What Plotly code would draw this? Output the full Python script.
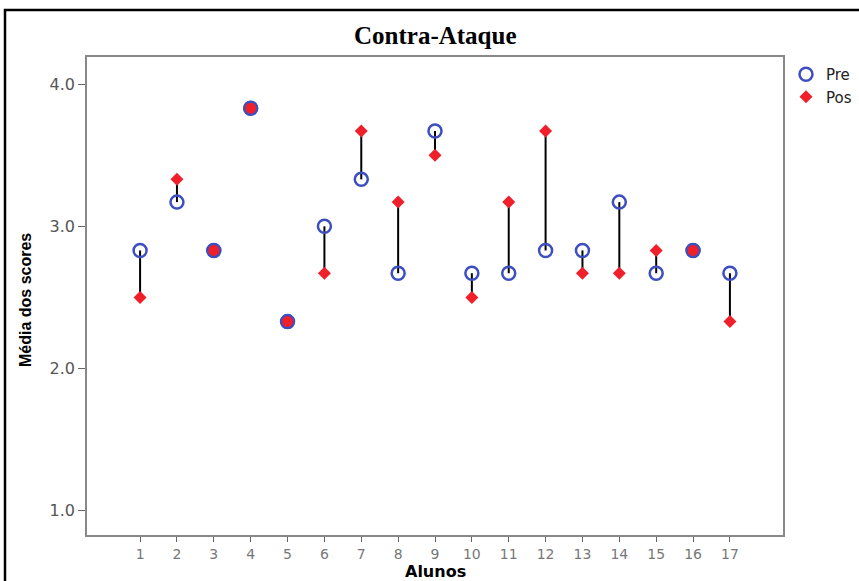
import plotly.graph_objects as go

alunos = list(range(1, 18))
pre = [2.83, 3.17, 2.83, 3.83, 2.33, 3.0, 3.33, 2.67, 3.67, 2.67, 2.67, 2.83, 2.83, 3.17, 2.67, 2.83, 2.67]
pos = [2.5, 3.33, 2.83, 3.83, 2.33, 2.67, 3.67, 3.17, 3.5, 2.5, 3.17, 3.67, 2.67, 2.67, 2.83, 2.83, 2.33]
y_ticks = [1.0, 2.0, 3.0, 4.0]

BLUE = "#3d4fc0"
RED = "#f0202a"

# connecting lines
lx, ly = [], []
for a, p, q in zip(alunos, pre, pos):
    lx += [a, a, None]
    ly += [p, q, None]

fig = go.Figure()
fig.add_trace(go.Scatter(x=lx, y=ly, mode="lines", line=dict(color="black", width=2),
                         showlegend=False, hoverinfo="skip"))
fig.add_trace(go.Scatter(x=alunos, y=pre, mode="markers", name="Pre",
                         marker=dict(symbol="circle-open", size=13, color=BLUE, line=dict(width=2.5, color=BLUE))))
fig.add_trace(go.Scatter(x=alunos, y=pos, mode="markers", name="Pos",
                         marker=dict(symbol="diamond", size=10, color=RED, line=dict(width=0))))
# equal values: filled
eq_x = [a for a, p, q in zip(alunos, pre, pos) if p == q]
eq_y = [p for p, q in zip(pre, pos) if p == q]
fig.add_trace(go.Scatter(x=eq_x, y=eq_y, mode="markers", showlegend=False, hoverinfo="skip",
                         marker=dict(symbol="circle", size=13, color=RED, line=dict(width=2, color=BLUE))))

W, H = 859, 581
L, R, T, B = 87, 76, 57, 46
pw, ph = W - L - R, H - T - B

fig.update_layout(
    width=W, height=H,
    margin=dict(l=L, r=R, t=T, b=B, autoexpand=False),
    paper_bgcolor="white", plot_bgcolor="white",
    font=dict(family="DejaVu Sans, Arial, sans-serif"),
    legend=dict(x=(786 - L) / pw, y=1 - (58 - T) / ph, xanchor="left", yanchor="top",
                font=dict(size=15, color="#222"), bgcolor="rgba(0,0,0,0)", itemwidth=30,
                tracegroupgap=0),
    xaxis=dict(range=[-0.44, 18.44], tickvals=alunos, ticktext=[str(a) for a in alunos],
               showgrid=False, zeroline=False, showline=True, linecolor="#888", linewidth=1.5,
               ticks="outside", ticklen=5, tickcolor="#666",
               tickfont=dict(family="DejaVu Sans, sans-serif", size=14, color="#777"), mirror=True),
    yaxis=dict(range=[0.83, 4.19], tickvals=y_ticks, ticktext=[f"{v:.1f}" for v in y_ticks],
               showgrid=False, zeroline=False, showline=True, linecolor="#888", linewidth=1.5,
               ticks="outside", ticklen=7, tickcolor="#666",
               tickfont=dict(family="DejaVu Sans, sans-serif", size=16, color="#555"), mirror=True),
    showlegend=True,
)

# Title
fig.add_annotation(text="<b>Contra-Ataque</b>", xref="paper", yref="paper",
                   x=(435 - L) / pw, y=1 + (T - 35) / ph, showarrow=False,
                   font=dict(family="Liberation Serif, Times New Roman, serif", size=25, color="black"),
                   xanchor="center", yanchor="middle")
# Axis titles
fig.add_annotation(text="<b>Alunos</b>", xref="paper", yref="paper",
                   x=(435 - L) / pw, y=-(571 - (T + ph)) / ph, showarrow=False,
                   font=dict(size=16, color="black"), xanchor="center", yanchor="middle")
fig.add_annotation(text="<b>Média dos scores</b>", xref="paper", yref="paper",
                   x=-(L - 25) / pw, y=1 - (300 - T) / ph, showarrow=False, textangle=-90,
                   font=dict(family="Liberation Sans Narrow, Arial Narrow, sans-serif", size=16, color="black"),
                   xanchor="center", yanchor="middle")
# Outer border
fig.add_shape(type="rect", xref="paper", yref="paper",
              x0=-(L - 5) / pw, x1=1.3, y0=-0.3, y1=1 + (T - 10) / ph,
              line=dict(color="black", width=2.5), layer="below")

fig.write_html("out.html")
